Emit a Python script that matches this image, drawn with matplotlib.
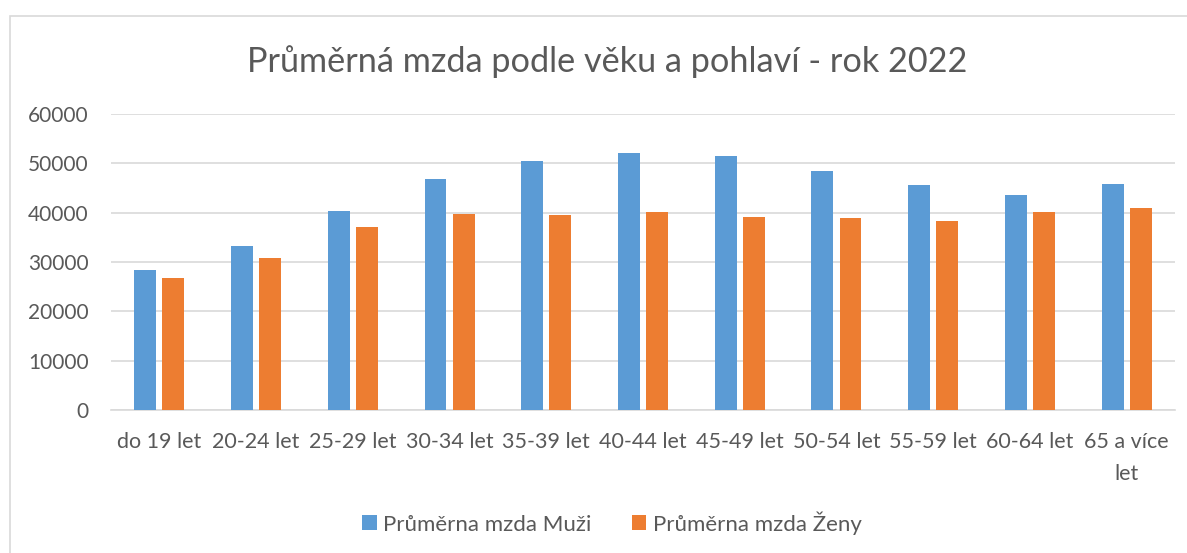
import matplotlib.pyplot as plt
import numpy as np
from matplotlib.patches import Rectangle

plt.rcParams['font.family'] = ['Lato', 'DejaVu Sans']

# kategorie a hodnoty
kategorie = ['do 19 let', '20-24 let', '25-29 let', '30-34 let', '35-39 let',
             '40-44 let', '45-49 let', '50-54 let', '55-59 let', '60-64 let',
             '65 a více\nlet']
muzi = [28400, 33300, 40400, 46800, 50500, 52100, 51500, 48500, 45600, 43600, 45800]
zeny = [26700, 30800, 37100, 39800, 39500, 40100, 39200, 38900, 38400, 40100, 40900]

seda = '#595959'
modra = '#5B9BD5'
oranzova = '#ED7D31'

fig = plt.figure(figsize=(11.87, 5.53), dpi=100)
ax = fig.add_axes([111 / 1187, (553 - 410) / 553, (1175 - 111) / 1187, (410 - 114) / 553])

# rámeček kolem grafu
fig.patches.append(Rectangle((10 / 1187, -0.1), 1.2, 0.1 + (553 - 15.5) / 553,
                             transform=fig.transFigure, fill=False,
                             edgecolor='#d9d9d9', linewidth=1.2))

x = np.arange(len(kategorie))
sirka = 0.227
ax.bar(x - 0.145, muzi, sirka, color=modra, label='Průměrna mzda Muži', zorder=3)
ax.bar(x + 0.145, zeny, sirka, color=oranzova, label='Průměrna mzda Ženy', zorder=3)

ax.set_xlim(-0.5, len(kategorie) - 0.5)
ax.set_ylim(0, 60000)
ax.set_yticks(range(0, 60001, 10000))
ax.set_xticks(x)
ax.set_xticklabels(kategorie, linespacing=1.72)
ax.tick_params(axis='both', length=0, labelcolor=seda)
ax.tick_params(axis='y', pad=16, labelsize=15)
ax.tick_params(axis='x', pad=16, labelsize=15.5)

ax.grid(axis='y', color='#d9d9d9', linewidth=1.2, zorder=0)
for s in ['top', 'right', 'left']:
    ax.spines[s].set_visible(False)
ax.spines['bottom'].set_color('#d9d9d9')
ax.spines['bottom'].set_linewidth(1.2)

fig.text(607 / 1187, (553 - 62) / 553, 'Průměrná mzda podle věku a pohlaví - rok 2022',
         ha='center', va='center', fontsize=24.7, color=seda)

fig.legend(loc='center', bbox_to_anchor=(612 / 1187, (553 - 523) / 553), ncol=2,
           frameon=False, fontsize=16, labelcolor=seda, handlelength=0.66,
           handleheight=0.66, handletextpad=0.3, columnspacing=1.8)

fig.savefig('out.png', dpi=100, facecolor='white')
